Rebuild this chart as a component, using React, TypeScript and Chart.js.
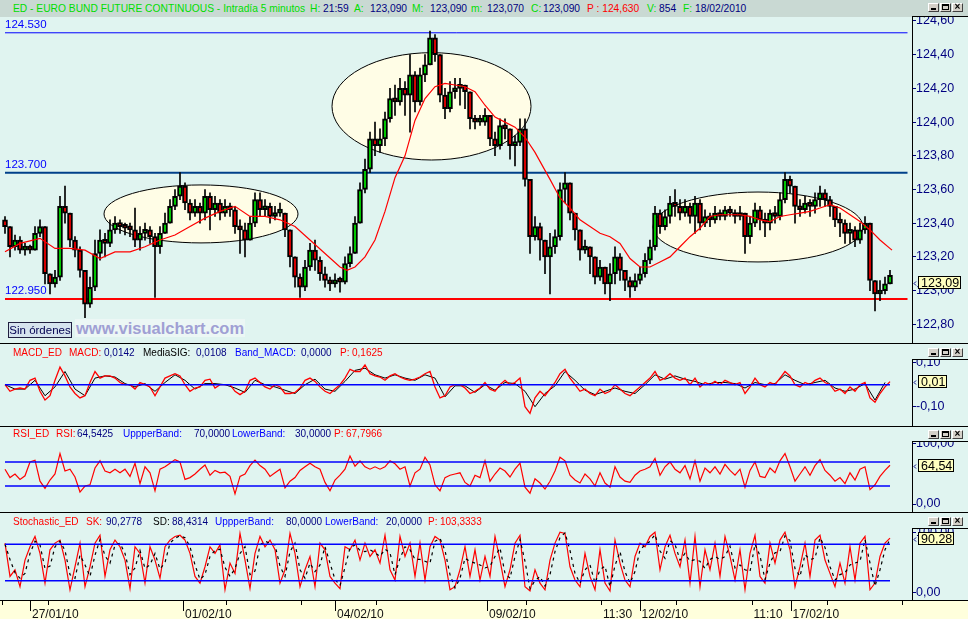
import React, { useEffect, useRef } from 'react';
import { Chart, registerables } from 'chart.js';

Chart.register(...registerables);

const FONT = "'Liberation Sans', Arial, sans-serif";
const BG = '#e0f4f0';

// ---------------- main price data (5-min candles, compressed) ----------------
const firstOpen = 123.42;
const closes = [
  123.38, 123.26, 123.30, 123.24, 123.25, 123.24, 123.34, 123.38, 123.10, 123.04,
  123.08, 123.50, 123.46, 123.30, 123.24, 123.12, 122.92, 123.02, 123.22, 123.30,
  123.28, 123.36, 123.40, 123.38, 123.37, 123.36, 123.30, 123.34, 123.36, 123.32,
  123.26, 123.34, 123.40, 123.50, 123.56, 123.62, 123.52, 123.46, 123.50, 123.46,
  123.56, 123.48, 123.52, 123.46, 123.50, 123.48, 123.38, 123.36, 123.30, 123.40,
  123.54, 123.48, 123.50, 123.44, 123.46, 123.46, 123.36, 123.20, 123.08, 123.02,
  123.14, 123.24, 123.18, 123.10, 123.06, 123.04, 123.06, 123.05, 123.16, 123.22,
  123.40, 123.60, 123.72, 123.90, 123.86, 123.90, 124.02, 124.14, 124.12, 124.20,
  124.16, 124.28, 124.12, 124.28, 124.34, 124.50, 124.40, 124.16, 124.08, 124.18,
  124.20, 124.22, 124.18, 124.02, 124.00, 124.00, 124.04, 123.90, 123.86, 123.98,
  123.96, 123.86, 123.88, 123.96, 123.66, 123.32, 123.38, 123.30, 123.20, 123.26,
  123.32, 123.60, 123.64, 123.46, 123.36, 123.24, 123.26, 123.20, 123.08, 123.14,
  123.04, 123.10, 123.20, 123.12, 123.06, 123.02, 123.06, 123.10, 123.18, 123.26,
  123.46, 123.38, 123.44, 123.52, 123.50, 123.46, 123.50, 123.44, 123.52, 123.40,
  123.44, 123.42, 123.46, 123.44, 123.48, 123.46, 123.44, 123.46, 123.32, 123.40,
  123.48, 123.42, 123.40, 123.46, 123.44, 123.54, 123.66, 123.62, 123.50, 123.48,
  123.52, 123.50, 123.54, 123.58, 123.54, 123.50, 123.42, 123.40, 123.34, 123.36,
  123.30, 123.36, 123.40, 123.06, 122.98, 123.00, 123.04, 123.09,
];
const highs = [
  123.44, 123.38, 123.33, 123.32, 123.28, 123.27, 123.38, 123.42, 123.36, 123.10,
  123.12, 123.56, 123.62, 123.42, 123.32, 123.26, 123.10, 123.08, 123.30, 123.36,
  123.34, 123.42, 123.44, 123.42, 123.40, 123.40, 123.49, 123.38, 123.40, 123.38,
  123.34, 123.38, 123.46, 123.54, 123.60, 123.70, 123.64, 123.54, 123.54, 123.52,
  123.60, 123.58, 123.56, 123.54, 123.54, 123.52, 123.50, 123.42, 123.40, 123.44,
  123.58, 123.58, 123.54, 123.52, 123.50, 123.52, 123.46, 123.36, 123.20, 123.10,
  123.18, 123.28, 123.30, 123.20, 123.14, 123.08, 123.10, 123.08, 123.20, 123.26,
  123.44, 123.64, 123.78, 123.94, 124.00, 123.96, 124.06, 124.20, 124.22, 124.26,
  124.24, 124.40, 124.30, 124.32, 124.40, 124.54, 124.52, 124.40, 124.20, 124.24,
  124.26, 124.26, 124.22, 124.16, 124.04, 124.04, 124.08, 124.00, 123.94, 124.02,
  124.02, 123.94, 123.92, 124.02, 124.02, 123.56, 123.44, 123.40, 123.30, 123.34,
  123.36, 123.64, 123.70, 123.60, 123.46, 123.34, 123.30, 123.26, 123.20, 123.18,
  123.14, 123.16, 123.26, 123.22, 123.12, 123.08, 123.10, 123.14, 123.22, 123.30,
  123.50, 123.48, 123.48, 123.56, 123.60, 123.54, 123.54, 123.52, 123.56, 123.54,
  123.48, 123.46, 123.50, 123.48, 123.50, 123.50, 123.48, 123.50, 123.46, 123.44,
  123.52, 123.50, 123.46, 123.48, 123.50, 123.58, 123.70, 123.68, 123.58, 123.54,
  123.56, 123.54, 123.58, 123.62, 123.60, 123.56, 123.50, 123.46, 123.42, 123.40,
  123.38, 123.40, 123.44, 123.38, 123.06, 123.06, 123.08, 123.12,
];
const lows = [
  123.34, 123.20, 123.24, 123.22, 123.21, 123.22, 123.24, 123.32, 123.04, 122.98,
  123.02, 123.06, 123.40, 123.26, 123.20, 123.08, 122.84, 122.90, 123.00, 123.18,
  123.20, 123.26, 123.34, 123.34, 123.33, 123.32, 123.26, 123.24, 123.30, 123.28,
  122.96, 123.22, 123.34, 123.40, 123.48, 123.54, 123.48, 123.42, 123.44, 123.40,
  123.42, 123.36, 123.44, 123.42, 123.44, 123.44, 123.34, 123.22, 123.20, 123.32,
  123.38, 123.44, 123.44, 123.40, 123.42, 123.44, 123.32, 123.14, 123.02, 122.96,
  123.00, 123.12, 123.12, 123.06, 123.02, 123.00, 123.02, 122.99, 123.04, 123.14,
  123.22, 123.40, 123.58, 123.70, 123.80, 123.82, 123.86, 124.00, 124.04, 124.10,
  124.04, 123.94, 124.06, 124.10, 124.24, 124.34, 124.36, 124.12, 124.02, 124.06,
  124.14, 124.10, 124.08, 123.96, 123.96, 123.98, 123.98, 123.86, 123.80, 123.84,
  123.90, 123.78, 123.74, 123.86, 123.62, 123.22, 123.30, 123.18, 123.10, 122.98,
  123.22, 123.30, 123.52, 123.42, 123.30, 123.18, 123.22, 123.10, 123.04, 123.06,
  122.98, 122.94, 123.04, 123.06, 123.00, 122.96, 123.00, 123.04, 123.08, 123.16,
  123.24, 123.34, 123.36, 123.40, 123.44, 123.42, 123.44, 123.40, 123.34, 123.36,
  123.38, 123.38, 123.40, 123.42, 123.42, 123.44, 123.40, 123.42, 123.22, 123.28,
  123.38, 123.36, 123.32, 123.36, 123.40, 123.42, 123.52, 123.58, 123.40, 123.44,
  123.46, 123.44, 123.46, 123.50, 123.50, 123.44, 123.38, 123.32, 123.28, 123.28,
  123.26, 123.28, 123.34, 123.00, 122.88, 122.94, 122.98, 123.04,
];

// moving average (red line) read at bar positions
const maIdx = [
  0, 3, 7, 10, 13, 16, 19, 22, 25, 28, 31, 34, 37, 40, 43, 46, 49, 52, 55, 58,
  61, 64, 67, 68.4, 70, 72, 74, 76, 78, 80, 82, 84, 86, 88, 90, 92, 94, 96, 98, 100,
  102, 104, 106, 109, 111, 113, 115, 117, 119, 121, 123, 125, 127, 129, 131, 133, 135, 137, 139, 141,
  143, 145, 147, 149, 151, 153, 155, 157, 159, 161, 163, 165, 167, 169, 171, 173, 175, 177.4,
];
const maVal = [
  123.23, 123.28, 123.31, 123.25, 123.25, 123.24, 123.19, 123.23, 123.23, 123.26,
  123.30, 123.33, 123.38, 123.43, 123.47, 123.50, 123.44, 123.44, 123.42, 123.38,
  123.30, 123.22, 123.14, 123.12, 123.14, 123.20, 123.30, 123.47, 123.67, 123.80,
  124.01, 124.14, 124.21, 124.23, 124.22, 124.21, 124.18, 124.10, 124.03, 124.00,
  123.97, 123.91, 123.82, 123.66, 123.55, 123.49, 123.42, 123.38, 123.34, 123.32,
  123.28, 123.19, 123.14, 123.14, 123.17, 123.20, 123.26, 123.32, 123.37, 123.44,
  123.45, 123.45, 123.45, 123.44, 123.42, 123.41, 123.44, 123.45, 123.46, 123.47,
  123.49, 123.51, 123.49, 123.45, 123.41, 123.36, 123.30, 123.24,
];

const levels = [124.53, 123.7, 122.95];
const levelLabels = ['124.530', '123.700', '122.950'];
const levelEnd = 180.5;

// highlighted zones (bar range x price range)
const zoneX0 = [19.8, 65.4, 129.6];
const zoneX1 = [58.6, 105.2, 171.6];
const zoneLow = [123.283, 123.775, 123.17];
const zoneHigh = [123.627, 124.412, 123.585];

const priceTicks = [122.8, 123.0, 123.2, 123.4, 123.6, 123.8, 124.0, 124.2, 124.4, 124.6];

// ---------------- MACD ----------------
const macd = [
  0.00, -0.03, -0.02, -0.015, -0.02, 0.02, 0.03, -0.03, -0.07, -0.05,
  0.02, 0.08, 0.04, -0.01, -0.04, -0.06, -0.05, 0.01, 0.06, 0.03,
  0.04, 0.04, 0.03, 0.01, 0.00, 0.00, -0.02, 0.01, 0.00, -0.01,
  -0.05, -0.01, 0.03, 0.04, 0.05, 0.04, 0.00, -0.03, -0.015, -0.01,
  0.02, 0.025, -0.015, 0.00, 0.00, 0.00, -0.03, -0.045, -0.03, 0.02,
  0.03, 0.01, -0.01, -0.02, 0.00, -0.01, -0.04, -0.04, -0.035, -0.015,
  0.02, 0.03, 0.015, -0.01, -0.03, -0.04, -0.02, 0.00, 0.03, 0.07,
  0.06, 0.06, 0.09, 0.05, 0.04, 0.035, 0.02, 0.04, 0.05, 0.035,
  0.025, 0.02, 0.025, 0.035, 0.05, 0.06, -0.01, -0.06, -0.05, -0.01,
  0.00, 0.00, -0.015, -0.04, -0.03, -0.015, 0.01, -0.02, -0.03, 0.00,
  0.02, 0.00, 0.01, 0.03, -0.10, -0.13, -0.06, -0.03, -0.05, -0.02,
  0.01, 0.05, 0.07, 0.03, 0.00, -0.03, -0.02, -0.04, -0.05, -0.02,
  -0.04, -0.03, 0.00, -0.02, -0.04, -0.05, -0.03, -0.01, 0.01, 0.03,
  0.06, 0.02, 0.03, 0.05, 0.03, 0.02, 0.03, 0.00, 0.03, -0.01,
  0.01, 0.00, 0.015, 0.00, 0.02, 0.01, 0.00, 0.01, -0.04, -0.01,
  0.03, 0.00, -0.01, 0.01, 0.00, 0.03, 0.06, 0.04, 0.00, -0.01,
  0.01, 0.00, 0.02, 0.03, 0.01, 0.00, -0.03, -0.02, -0.04, -0.01,
  -0.03, 0.00, 0.01, -0.06, -0.08, -0.04, -0.01, 0.0142,
];
// signal line, every second bar
const macdSig = [
  0.00, -0.02, -0.02, 0.02, -0.05, -0.01, 0.06, -0.02, -0.05, 0.03,
  0.04, 0.035, 0.005, -0.01, 0.005, -0.03, 0.01, 0.045, 0.02, -0.02,
  0.005, 0.005, 0.00, -0.015, -0.035, 0.02, 0.00, -0.01, -0.025, -0.04,
  0.00, 0.025, -0.02, -0.03, 0.015, 0.065, 0.075, 0.045, 0.03, 0.045,
  0.03, 0.02, 0.045, 0.03, -0.055, -0.005, -0.005, -0.035, 0.00, -0.025,
  0.01, 0.005, -0.03, -0.10, -0.04, -0.005, 0.06, 0.02, -0.025, -0.045,
  -0.03, -0.015, -0.03, -0.04, 0.00, 0.045, 0.025, 0.04, 0.025, 0.015,
  0.00, 0.01, 0.01, 0.005, -0.015, 0.01, 0.00, 0.005, 0.045, 0.02,
  0.00, 0.01, 0.02, -0.015, -0.03, -0.02, 0.005, -0.07, 0.01,
];
const macdBand = 0;
const macdTicks = [-0.1, 0.1];

// ---------------- RSI ----------------
const rsi = [
  58, 44, 50, 41, 47, 70, 73, 38, 26, 40,
  50, 84, 55, 58, 45, 20, 30, 32, 60, 72,
  55, 52, 58, 52, 58, 46, 68, 34, 62, 52,
  22, 58, 62, 68, 74, 70, 41, 44, 50, 58,
  65, 48, 56, 52, 53, 46, 17, 46, 50, 64,
  73, 64, 58, 46, 52, 58, 27, 38, 44, 56,
  62, 68, 62, 58, 36, 22, 40, 48, 58, 80,
  63, 72, 62, 58, 62, 58, 62, 72, 67, 58,
  62, 30, 52, 58, 78, 65, 32, 22, 44, 48,
  50, 52, 36, 30, 48, 44, 72, 38, 50, 60,
  55, 45, 58, 68, 28, 18, 42, 35, 25, 38,
  55, 78, 72, 48, 40, 35, 50, 42, 30, 52,
  35, 28, 62, 45, 38, 36, 48, 55, 58, 62,
  76, 48, 62, 70, 58, 52, 64, 42, 72, 38,
  60, 52, 62, 50, 66, 56, 48, 58, 28, 56,
  70, 46, 44, 60, 52, 72, 84, 62, 38, 50,
  62, 48, 64, 74, 56, 48, 38, 44, 34, 52,
  40, 58, 62, 24, 32, 46, 56, 64.54,
];
const rsiBands = [70, 30];
const rsiTicks = [0, 100];

// ---------------- Stochastic ----------------
const stochK = [
  82, 27, 38, 10, 54, 76, 93, 65, 16, 71,
  82, 87, 54, 5, 43, 82, 10, 43, 82, 95,
  27, 71, 87, 76, 54, 7, 76, 65, 16, 76,
  54, 24, 76, 87, 93, 95, 87, 65, 27, 16,
  43, 76, 65, 79, 5, 49, 32, 98, 54, 7,
  65, 93, 76, 87, 71, 16, 38, 98, 65, 10,
  38, 60, 10, 82, 71, 27, 16, 7, 76, 71,
  87, 54, 82, 60, 71, 49, 95, 38, 21, 93,
  60, 82, 27, 82, 21, 76, 93, 87, 54, 5,
  10, 38, 76, 27, 71, 21, 60, 27, 93, 54,
  10, 38, 82, 95, 10, 3, 38, 16, 5, 54,
  82, 100, 98, 43, 21, 10, 65, 27, 5, 71,
  16, 3, 87, 49, 21, 10, 60, 82, 76, 93,
  100, 38, 76, 95, 65, 43, 87, 16, 93, 10,
  71, 38, 82, 27, 93, 60, 21, 71, 5, 65,
  95, 27, 16, 82, 49, 87, 100, 71, 10, 43,
  82, 27, 87, 95, 54, 32, 10, 49, 16, 76,
  21, 82, 93, 5, 16, 60, 82, 90.28,
];
const stochD = [
  80, 55, 33, 24, 32, 65, 85, 79, 40, 44,
  76, 85, 70, 30, 24, 62, 46, 27, 62, 88,
  61, 49, 79, 82, 65, 30, 41, 70, 40, 46,
  65, 39, 50, 82, 90, 94, 91, 76, 46, 22,
  30, 60, 70, 72, 42, 27, 40, 65, 76, 30,
  36, 79, 85, 82, 79, 44, 27, 68, 82, 38,
  24, 49, 35, 46, 76, 49, 22, 12, 42, 74,
  79, 70, 68, 71, 66, 60, 72, 66, 30, 57,
  76, 71, 55, 55, 52, 49, 85, 90, 70, 30,
  8, 24, 57, 52, 49, 46, 41, 44, 60, 74,
  32, 24, 60, 88, 52, 7, 20, 27, 11, 30,
  68, 91, 99, 70, 32, 16, 38, 46, 16, 38,
  44, 10, 45, 68, 35, 16, 35, 71, 79, 85,
  96, 69, 57, 86, 80, 54, 65, 52, 55, 52,
  40, 55, 60, 55, 60, 77, 41, 46, 38, 35,
  80, 61, 22, 49, 66, 68, 94, 86, 40, 27,
  63, 55, 57, 91, 75, 43, 21, 30, 33, 46,
  49, 52, 88, 49, 11, 38, 71, 88.43,
];
const stochBands = [80, 20];
const stochTicks = [0, 100];

// ---------------- time axis ----------------
const xTickIdx = [-0.54, 5, 8.66, 35.6, 44.3, 59.3, 66, 74.2, 96.4, 104.1, 119.2, 126.9, 134.2, 149.3, 157.1, 164.3, 179.3];
const xTickLabels = ['', '27/01/10', '', '01/02/10', '', '', '04/02/10', '', '09/02/10', '', '11:30', '12/02/10', '', '11:10', '17/02/10', '', ''];
const xTickMajor = [false, true, false, true, false, false, true, false, true, false, false, true, false, false, true, false, false];

const X_MIN = -1;
const X_MAX = 181.4;

const opens = closes.map((c, i) => (i === 0 ? firstOpen : closes[i - 1]));
const idx = closes.map((_, i) => i);
const lastBar = closes.length - 1;

const fmt2 = (v: number) => v.toFixed(2).replace('.', ',');

function hiddenX(): any {
  return {
    type: 'linear', min: X_MIN, max: X_MAX, offset: false, display: false,
    grid: { display: false, offset: false },
  };
}

function rightY(min: number, max: number, ticks: number[]): any {
  return {
    type: 'linear', position: 'right', min, max,
    afterBuildTicks: (s: any) => { s.ticks = ticks.map((v) => ({ value: v })); },
    afterFit: (s: any) => { s.width = 56; s.paddingTop = 0; s.paddingBottom = 0; },
    grid: { drawOnChartArea: false, drawTicks: true, tickLength: 4, color: '#000080', lineWidth: 1 },
    border: { display: false },
    ticks: {
      autoSkip: false, padding: 0, color: '#000080',
      font: { family: FONT, size: 12.5 },
      callback: (v: any) => fmt2(Number(v)),
    },
  };
}

const common: any = {
  responsive: false,
  animation: false,
  events: [],
  devicePixelRatio: 1,
  layout: { padding: 0, autoPadding: false },
  plugins: { legend: { display: false }, tooltip: { enabled: false }, title: { display: false } },
};

function valueBox(value: number, text: string, anchor: 'top' | 'center', id: string) {
  return {
    id,
    afterDraw(chart: any) {
      const ys = chart.scales.y;
      const ctx = chart.ctx;
      const area = chart.chartArea;
      const py = ys.getPixelForValue(value);
      ctx.save();
      ctx.font = `12.5px ${FONT}`;
      const w = Math.round(ctx.measureText(text).width) + 5;
      const h = 13;
      const x = Math.round(area.right) + 6;
      const top = Math.round(anchor === 'top' ? py + 1 : py - h / 2);
      ctx.fillStyle = '#ffffc0';
      ctx.fillRect(x, top, w, h);
      ctx.strokeStyle = '#000';
      ctx.lineWidth = 1;
      ctx.strokeRect(x + 0.5, top + 0.5, w - 1, h - 1);
      ctx.fillStyle = '#000';
      ctx.textBaseline = 'middle';
      ctx.textAlign = 'left';
      ctx.fillText(text, x + 3, top + h / 2 + 1);
      const my = top + Math.round(h / 2) + 0.5;
      ctx.beginPath();
      ctx.moveTo(x - 2, my - 2);
      ctx.lineTo(x - 4, my);
      ctx.lineTo(x - 2, my + 2);
      ctx.strokeStyle = '#000080';
      ctx.stroke();
      ctx.restore();
    },
  };
}

const zonesPlugin = {
  id: 'zones',
  beforeDatasetsDraw(chart: any) {
    const xs = chart.scales.x;
    const ys = chart.scales.y;
    const ctx = chart.ctx;
    const a = chart.chartArea;
    ctx.save();
    ctx.beginPath();
    ctx.rect(a.left, a.top, a.right - a.left, a.bottom - a.top);
    ctx.clip();
    zoneX0.forEach((x0, k) => {
      const l = xs.getPixelForValue(x0);
      const r = xs.getPixelForValue(zoneX1[k]);
      const t = ys.getPixelForValue(zoneHigh[k]);
      const b = ys.getPixelForValue(zoneLow[k]);
      ctx.beginPath();
      ctx.ellipse((l + r) / 2, (t + b) / 2, (r - l) / 2, (b - t) / 2, 0, 0, Math.PI * 2);
      ctx.fillStyle = '#fffde6';
      ctx.fill();
      ctx.strokeStyle = '#000';
      ctx.lineWidth = 1;
      ctx.stroke();
    });
    ctx.restore();
  },
};

const levelLabelPlugin = {
  id: 'levelLabels',
  afterDatasetsDraw(chart: any) {
    const xs = chart.scales.x;
    const ys = chart.scales.y;
    const ctx = chart.ctx;
    ctx.save();
    ctx.font = `11.5px ${FONT}`;
    ctx.fillStyle = '#0000ff';
    ctx.textAlign = 'left';
    ctx.textBaseline = 'bottom';
    levels.forEach((v, k) => {
      ctx.fillText(levelLabels[k], xs.getPixelForValue(0), ys.getPixelForValue(v) - 2);
    });
    ctx.restore();
  },
};

const xTickPlugin = {
  id: 'xticks',
  afterDraw(chart: any) {
    const xs = chart.scales.x;
    const ctx = chart.ctx;
    const top = chart.chartArea.bottom;
    ctx.save();
    ctx.strokeStyle = '#000';
    ctx.lineWidth = 1;
    xTickIdx.forEach((v, i) => {
      const px = Math.round(xs.getPixelForValue(v)) + 0.5;
      const len = xTickMajor[i] ? 11 : 5;
      ctx.beginPath();
      ctx.moveTo(px, top);
      ctx.lineTo(px, top + len);
      ctx.stroke();
    });
    ctx.restore();
  },
};

function flat(y: number) {
  return [{ x: 0, y }, { x: lastBar, y }];
}

function lineDs(data: any[], color: string, width: number, extra: any = {}) {
  return { type: 'line', data, borderColor: color, borderWidth: width, pointRadius: 0, tension: 0, fill: false, ...extra };
}

type Seg = [string, string, number];
const G = '#00dd00';
const N = '#000080';
const R = '#ff0000';
const B = '#0000ff';
const K = '#000000';

const titleSegs: Seg[] = [
  ['ED - EURO BUND FUTURE CONTINUOUS - Intradía 5 minutos', G, 13],
  ['H:', G, 310], ['21:59', N, 323], ['A:', G, 354], ['123,090', N, 370],
  ['M:', G, 412], ['123,090', N, 430], ['m:', G, 471], ['123,070', N, 487],
  ['C:', G, 531], ['123,090', N, 543], ['P : 124,630', R, 587], ['V:', G, 647],
  ['854', N, 659], ['F:', G, 683], ['18/02/2010', N, 695],
];
const macdSegs: Seg[] = [
  ['MACD_ED', R, 13], ['MACD:', R, 69], ['0,0142', N, 104], ['MediaSIG:', K, 143],
  ['0,0108', N, 196], ['Band_MACD:', B, 235], ['0,0000', N, 301], ['P:', R, 340], ['0,1625', R, 352],
];
const rsiSegs: Seg[] = [
  ['RSI_ED', R, 13], ['RSI:', R, 56], ['64,5425', N, 77], ['UppperBand:', B, 123],
  ['70,0000', N, 194], ['LowerBand:', B, 232], ['30,0000', N, 295], ['P:', R, 334], ['67,7966', R, 346],
];
const stochSegs: Seg[] = [
  ['Stochastic_ED', R, 13], ['SK:', R, 86], ['90,2778', N, 106], ['SD:', K, 153],
  ['88,4314', N, 172], ['UppperBand:', B, 215], ['80,0000', N, 286], ['LowerBand:', B, 325],
  ['20,0000', N, 386], ['P:', R, 428], ['103,3333', R, 440],
];

function Header({ segs, top, size }: { segs: Seg[]; top: number; size: number }) {
  return (
    <>
      {segs.map(([t, c, x], i) => (
        <span
          key={i}
          style={{
            position: 'absolute', left: x, top, color: c, fontSize: size, lineHeight: '13px',
            whiteSpace: 'nowrap', fontFamily: FONT, zIndex: 3,
          }}
        >
          {t}
        </span>
      ))}
    </>
  );
}

function WinButtons({ top }: { top: number }) {
  const base: any = {
    position: 'absolute', top, width: 11, height: 9, background: '#d4d0c8', boxSizing: 'border-box',
    borderTop: '1px solid #ffffff', borderLeft: '1px solid #ffffff',
    borderRight: '1px solid #404040', borderBottom: '1px solid #404040', zIndex: 4,
  };
  return (
    <>
      <div style={{ ...base, left: 928 }}>
        <div style={{ position: 'absolute', left: 2, top: 4, width: 5, height: 2, background: '#000' }} />
      </div>
      <div style={{ ...base, left: 940 }}>
        <div style={{ position: 'absolute', left: 1, top: 0, width: 7, height: 6, boxSizing: 'border-box', border: '1px solid #000', borderTop: '2px solid #000' }} />
      </div>
      <div style={{ ...base, left: 952 }}>
        <div style={{ position: 'absolute', left: 0, top: -3, width: 9, fontSize: 10, lineHeight: '12px', fontWeight: 'bold', textAlign: 'center', fontFamily: FONT }}>×</div>
      </div>
    </>
  );
}

function HLine({ top, left = 0, width = 968 }: { top: number; left?: number; width?: number }) {
  return <div style={{ position: 'absolute', left, top, width, height: 1, background: '#000', zIndex: 3 }} />;
}
function VLine({ left, top, height }: { left: number; top: number; height: number }) {
  return <div style={{ position: 'absolute', left, top, width: 1, height, background: '#000', zIndex: 3 }} />;
}

export default function App() {
  const mainRef = useRef<HTMLCanvasElement>(null);
  const macdRef = useRef<HTMLCanvasElement>(null);
  const rsiRef = useRef<HTMLCanvasElement>(null);
  const stochRef = useRef<HTMLCanvasElement>(null);

  useEffect(() => {
    const charts: Chart[] = [];

    // ---------- main price chart ----------
    const levelColors = ['#0000ff', '#00408a', '#ff0000'];
    const levelWidths = [1, 2, 2];
    charts.push(
      new Chart(mainRef.current as HTMLCanvasElement, {
        type: 'bar',
        data: {
          datasets: [
            lineDs(maIdx.map((x, i) => ({ x, y: maVal[i] })), '#ff0000', 1.2),
            {
              type: 'bar',
              data: idx.map((i) => ({ x: i, y: [opens[i], closes[i]] })),
              backgroundColor: idx.map((i) => (closes[i] >= opens[i] ? '#00ee00' : '#ff0000')),
              borderColor: '#000',
              borderWidth: 2,
              borderSkipped: false,
              barThickness: 5,
              minBarLength: 4,
              grouped: false,
            },
            {
              type: 'bar',
              data: idx.map((i) => ({
                x: i,
                y: [Math.min(lows[i], opens[i], closes[i]), Math.max(highs[i], opens[i], closes[i])],
              })),
              backgroundColor: '#000',
              borderWidth: 0,
              barThickness: 1,
              grouped: false,
            },
            ...levels.map((v, k) =>
              lineDs([{ x: 0, y: v }, { x: levelEnd, y: v }], levelColors[k], levelWidths[k]),
            ),
          ] as any,
        },
        options: {
          ...common,
          scales: { x: hiddenX(), y: rightY(122.689, 124.6237, priceTicks) },
        },
        plugins: [zonesPlugin, levelLabelPlugin, valueBox(closes[lastBar], fmt2(closes[lastBar]), 'top', 'vbMain')],
      } as any),
    );

    // ---------- MACD ----------
    charts.push(
      new Chart(macdRef.current as HTMLCanvasElement, {
        type: 'line',
        data: {
          datasets: [
            lineDs(flat(macdBand), '#0000ff', 1.5),
            lineDs(macd.map((y, i) => ({ x: i, y })), '#ff0000', 1.3),
            lineDs(macdSig.map((y, i) => ({ x: i * 2, y })), '#000000', 1),
          ] as any,
        },
        options: { ...common, scales: { x: hiddenX(), y: rightY(-0.1877, 0.185, macdTicks) } },
        plugins: [valueBox(macd[lastBar], fmt2(macd[lastBar]), 'center', 'vbMacd')],
      } as any),
    );

    // ---------- RSI ----------
    charts.push(
      new Chart(rsiRef.current as HTMLCanvasElement, {
        type: 'line',
        data: {
          datasets: [
            ...rsiBands.map((b) => lineDs(flat(b), '#0000ff', 1.5)),
            lineDs(rsi.map((y, i) => ({ x: i, y })), '#ff0000', 1.2),
          ] as any,
        },
        options: { ...common, scales: { x: hiddenX(), y: rightY(-13.3, 128.3, rsiTicks) } },
        plugins: [valueBox(rsi[lastBar], fmt2(rsi[lastBar]), 'center', 'vbRsi')],
      } as any),
    );

    // ---------- Stochastic + time axis ----------
    charts.push(
      new Chart(stochRef.current as HTMLCanvasElement, {
        type: 'line',
        data: {
          datasets: [
            ...stochBands.map((b) => lineDs(flat(b), '#0000ff', 1.5)),
            lineDs(stochD.map((y, i) => ({ x: i, y })), '#000000', 1.2, { borderDash: [3, 4] }),
            lineDs(stochK.map((y, i) => ({ x: i, y })), '#ff0000', 1.2),
          ] as any,
        },
        options: {
          ...common,
          scales: {
            x: {
              type: 'linear', min: X_MIN, max: X_MAX, offset: false, position: 'bottom',
              afterBuildTicks: (s: any) => { s.ticks = xTickIdx.map((v) => ({ value: v })); },
              afterFit: (s: any) => { s.height = 19; s.paddingLeft = 0; s.paddingRight = 0; },
              grid: { display: false, offset: false },
              border: { display: false },
              ticks: {
                autoSkip: false, maxRotation: 0, minRotation: 0, align: 'start', labelOffset: 2,
                padding: -1, color: '#101010', font: { family: FONT, size: 12 },
                callback: (_v: any, i: number) => xTickLabels[i],
              },
            },
            y: rightY(-11.9, 131.7, stochTicks),
          },
        },
        plugins: [xTickPlugin, valueBox(stochK[lastBar], fmt2(stochK[lastBar]), 'center', 'vbStoch')],
      } as any),
    );

    return () => charts.forEach((c) => c.destroy());
  }, []);

  const canvasStyle = (top: number, h: number): any => ({ position: 'absolute', left: 0, top, width: 968, height: h, zIndex: 2 });

  return (
    <div
      style={{
        position: 'fixed', left: 0, top: 0, width: 968, height: 619, overflow: 'hidden',
        background: BG, fontFamily: FONT,
      }}
    >
      {/* title bar */}
      <div style={{ position: 'absolute', left: 0, top: 0, width: 968, height: 17, background: '#c9d9d3', zIndex: 1 }} />
      <Header segs={titleSegs} top={2} size={10.25} />
      <WinButtons top={3} />

      {/* time axis strip */}
      <div style={{ position: 'absolute', left: 0, top: 600, width: 968, height: 19, background: '#ffffdc', zIndex: 1 }} />

      <canvas ref={mainRef} width={968} height={326} style={canvasStyle(17, 326)} />
      <canvas ref={macdRef} width={968} height={82} style={canvasStyle(344, 82)} />
      <canvas ref={rsiRef} width={968} height={85} style={canvasStyle(427, 85)} />
      <canvas ref={stochRef} width={968} height={106} style={canvasStyle(513, 106)} />

      {/* covers above the small panels' scale boxes */}
      <div style={{ position: 'absolute', left: 913, top: 344, width: 55, height: 15, background: BG, zIndex: 3 }} />
      <div style={{ position: 'absolute', left: 913, top: 427, width: 55, height: 14, background: BG, zIndex: 3 }} />
      <div style={{ position: 'absolute', left: 913, top: 513, width: 55, height: 15, background: BG, zIndex: 3 }} />

      {/* separators and scale boxes */}
      <HLine top={343} />
      <HLine top={426} />
      <HLine top={512} />
      <HLine top={600} />
      <HLine top={16} left={912} width={56} />
      <VLine left={912} top={16} height={327} />
      <HLine top={359} left={912} width={56} />
      <VLine left={912} top={359} height={67} />
      <HLine top={441} left={912} width={56} />
      <VLine left={912} top={441} height={71} />
      <HLine top={528} left={912} width={56} />
      <VLine left={912} top={528} height={72} />

      <WinButtons top={348} />
      <WinButtons top={430} />
      <WinButtons top={517} />

      <Header segs={macdSegs} top={346} size={10} />
      <Header segs={rsiSegs} top={427} size={10} />
      <Header segs={stochSegs} top={515} size={10} />

      {/* footer widgets of the price panel */}
      <div
        style={{
          position: 'absolute', left: 8, top: 322, width: 64, height: 16, boxSizing: 'border-box',
          border: '1px solid #202040', background: '#d6e4ee', color: '#000050', fontSize: 11.5,
          lineHeight: '14px', textAlign: 'center', whiteSpace: 'nowrap', overflow: 'hidden',
          zIndex: 3, fontFamily: FONT,
        }}
      >
        Sin órdenes
      </div>
      <div
        style={{
          position: 'absolute', left: 75, top: 319, fontSize: 16.5, fontWeight: 'bold', color: '#a0a0d4',
          background: '#ecf7f5', lineHeight: '18px', padding: '0 1px', zIndex: 3, fontFamily: FONT,
        }}
      >
        www.visualchart.com
      </div>
    </div>
  );
}
